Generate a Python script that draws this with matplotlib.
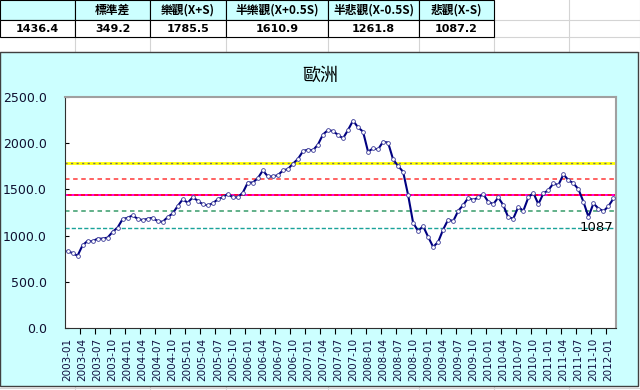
import matplotlib
matplotlib.use("Agg")
import matplotlib.pyplot as plt
from matplotlib.patches import Rectangle
import pandas as pd

plt.rcParams['font.family'] = ['Noto Sans CJK TC', 'DejaVu Sans']

# 表格數值
header_labels = ['', '標準差', '樂觀(X+S)', '半樂觀(X+0.5S)', '半悲觀(X-0.5S)', '悲觀(X-S)']
header_values = ['1436.4', '349.2', '1785.5', '1610.9', '1261.8', '1087.2']

# 水平參考線
mean_level = 1436.4
opt_level = 1785.5
half_opt_level = 1610.9
half_pes_level = 1261.8
pes_level = 1087.2

# 月資料 2003-01 ~ 2012-02
months = [d.strftime('%Y-%m') for d in pd.date_range('2003-01-01', '2012-02-01', freq='MS')]
values = [
    832, 811, 782, 894, 942, 938, 967, 967, 978, 1040,
    1087, 1178, 1193, 1218, 1182, 1167, 1182, 1193, 1156, 1149,
    1200, 1240, 1320, 1393, 1356, 1414, 1378, 1338, 1327, 1349,
    1393, 1414, 1451, 1414, 1414, 1465, 1574, 1574, 1622, 1705,
    1640, 1640, 1654, 1705, 1720, 1778, 1829, 1913, 1931, 1923,
    1985, 2094, 2142, 2131, 2090, 2052, 2143, 2244, 2172, 2125,
    1908, 1944, 1933, 2016, 2006, 1825, 1753, 1691, 1438, 1138,
    1051, 1102, 986, 877, 932, 1066, 1174, 1156, 1268, 1330,
    1409, 1384, 1413, 1449, 1366, 1340, 1413, 1330, 1196, 1185,
    1311, 1268, 1413, 1463, 1340, 1456, 1492, 1565, 1547, 1662,
    1601, 1565, 1503, 1366, 1203, 1348, 1293, 1264, 1319, 1402,
]

W, H = 640, 390
fig = plt.figure(figsize=(6.4, 3.9), dpi=100)

# 背景：試算表格線與圖表區
bg = fig.add_axes([0, 0, 1, 1])
bg.set_xlim(0, W)
bg.set_ylim(H, 0)
bg.axis('off')

cols = [0, 75, 150, 226, 328, 419, 494, 569, 640]
rows = [0, 20, 37, 52]
for x in cols[1:]:
    bg.plot([x, x], [0, H], color='#D4D4D4', lw=0.8, zorder=1)
for y in rows[1:] + [388]:
    bg.plot([0, W], [y, y], color='#D4D4D4', lw=0.8, zorder=1)

for i in range(6):
    x0, x1 = cols[i], cols[i + 1]
    bg.add_patch(Rectangle((x0, 0), x1 - x0, 20, facecolor='#CCFFFF', edgecolor='black', lw=0.8, zorder=2))
    bg.add_patch(Rectangle((x0, 20), x1 - x0, 17, facecolor='white', edgecolor='black', lw=0.8, zorder=2))
    bg.text((x0 + x1) / 2, 10, header_labels[i], ha='center', va='center',
            fontsize=8.5, fontweight='bold', color='black', zorder=3)
    bg.text((x0 + x1) / 2, 29, header_values[i], ha='center', va='center',
            fontsize=8, fontweight='bold', color='black', family='DejaVu Sans', zorder=3)

bg.add_patch(Rectangle((0, 52), 638, 334, facecolor='#CCFFFF', edgecolor='#404040', lw=1.0, zorder=4))
bg.text(320, 76, '歐洲', ha='center', va='center', fontsize=13, color='black', zorder=5)

# 主圖
ax = fig.add_axes([65 / W, (H - 328) / H, 551 / W, 231 / H])
ax.set_facecolor('white')
n = len(values)
x = list(range(n))

ax.axhline(opt_level, color='#FFFF00', lw=2.0, zorder=2)
ax.axhline(opt_level, color='#707070', lw=1.0, ls=(0, (1.5, 2.5)), zorder=2)
ax.axhline(half_opt_level, color='#FF5555', lw=1.3, ls=(0, (2.5, 2)), zorder=2)
ax.axhline(mean_level, color='#FF0033', lw=1.4, zorder=2)
ax.axhline(mean_level, color='#FF00FF', lw=1.2, ls=(0, (1.5, 2.5)), zorder=2)
ax.axhline(half_pes_level, color='#55AA80', lw=1.3, ls=(0, (2.5, 2)), zorder=2)
ax.axhline(pes_level, color='#1AA39A', lw=1.0, ls=(0, (3, 1.5)), zorder=2)

ax.plot(x, values, color='#000080', lw=1.5, marker='o', markersize=2.7,
        markerfacecolor='white', markeredgecolor='#3A3A98', markeredgewidth=0.6, zorder=3)
ax.text(n - 1, pes_level, '%d' % pes_level, ha='right', va='center',
        fontsize=9.5, color='black', family='DejaVu Sans', zorder=4)

ax.set_xlim(-0.5, n - 0.5)
ax.set_ylim(0, 2500)
ax.set_yticks([0, 500, 1000, 1500, 2000, 2500])
ax.set_yticklabels(['%.1f' % v for v in [0, 500, 1000, 1500, 2000, 2500]],
                   fontsize=9, color='#101030', family='DejaVu Sans')
ax.tick_params(axis='y', direction='in', length=3, pad=13)

lab_pos = list(range(0, n, 3))
ax.set_xticks(lab_pos)
ax.set_xticklabels([months[i] for i in lab_pos], rotation=90, fontsize=7.5,
                   color='#101040', family='DejaVu Sans')
ax.tick_params(axis='x', which='major', length=0, pad=7)
ax.set_xticks([i - 0.5 for i in range(3, n, 3)], minor=True)
ax.tick_params(axis='x', which='minor', direction='out', length=4, width=0.8)

for side in ['top', 'right']:
    ax.spines[side].set_color('#A0A0A0')
    ax.spines[side].set_linewidth(1.5)
ax.spines['left'].set_color('#303030')
ax.spines['bottom'].set_color('#303030')

fig.savefig('out.png', dpi=100)
